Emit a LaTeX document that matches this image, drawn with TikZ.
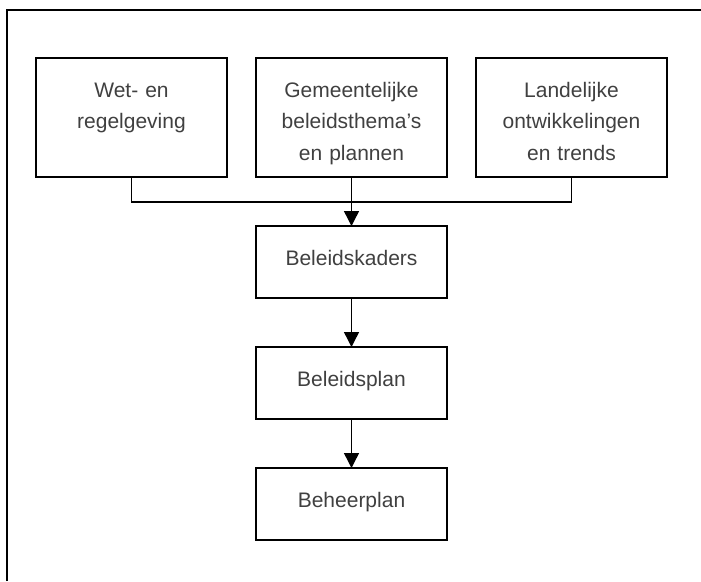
\documentclass[tikz,border=0pt]{standalone}
\usepackage{fontspec}
\setmainfont{Liberation Sans}
\usetikzlibrary{positioning,arrows.meta}
\definecolor{textgray}{RGB}{64,64,64}

\begin{document}
\begin{tikzpicture}[x=1pt,y=-1pt,node distance=49pt and 29pt,line width=1.4pt,
                box/.style={rectangle,draw,inner sep=0pt,outer sep=0pt,text width=191pt,align=center,
                  font=\fontsize{21}{31.5}\selectfont,text=textgray,text height=39pt},
                top box/.style={box,text depth=80pt},
                low box/.style={box,text depth=33pt}]

	\useasboundingbox (0,0) rectangle (701,581);
	\draw[line width=2pt] (7,581) -- (7,10) -- (701,10);

	\node[top box,anchor=north west] (wet) at (36,58) {Wet- en\\ regelgeving};
	\node[top box] (thema) [right=of wet] {Gemeentelijke\\ beleidsthema’s\\ en plannen};
	\node[top box] (trends) [right=of thema] {Landelijke\\ ontwikkelingen\\ en trends};
	\node[low box] (kaders) [below=of thema] {Beleidskaders};
	\node[low box] (plan) [below=of kaders] {Beleidsplan};
	\node[low box] (beheer) [below=of plan] {Beheerplan};

	\coordinate (join) at (351.5,202);

	\draw (wet.south) |- (join) -| (trends.south);
	\path[-{Triangle[length=15pt,width=15pt]}]
	(thema) edge (kaders)
	(kaders) edge (plan)
	(plan) edge (beheer)
	;
\end{tikzpicture}
\end{document}
